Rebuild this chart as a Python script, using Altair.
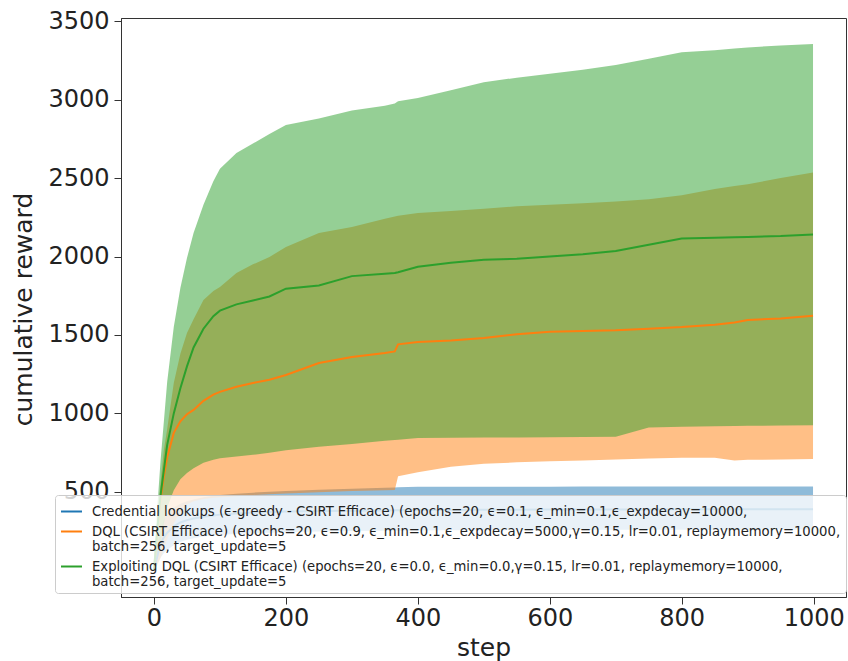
import altair as alt
import pandas as pd

# ---- data ----
steps = [0, 5, 10, 15, 20, 30, 40, 50, 60, 75, 90, 100, 125, 150, 175, 200, 250, 300, 350,
         365, 370, 400, 450, 500, 550, 600, 650, 700, 750, 800, 850, 880, 900, 950, 999]

blue_mean = [0, 90, 170, 210, 240, 280, 305, 320, 330, 342, 350, 355, 362, 368, 372, 375, 378, 380, 382,
             383, 383, 384, 385, 386, 386, 387, 387, 388, 388, 389, 389, 389, 390, 390, 390]
blue_lo = [0, 40, 80, 110, 130, 160, 180, 195, 205, 215, 222, 226, 232, 237, 240, 243, 247, 250, 252,
           253, 253, 254, 255, 256, 256, 257, 257, 258, 258, 258, 259, 259, 259, 260, 260]
blue_hi = [0, 150, 260, 320, 360, 400, 425, 440, 452, 465, 475, 480, 488, 495, 500, 505, 513, 520, 526,
           528, 529, 532, 533, 533, 533, 533, 534, 534, 534, 534, 535, 535, 535, 535, 535]

orange_mean = [0, 250, 450, 600, 720, 876, 950, 995, 1022, 1080, 1120, 1137, 1170, 1194, 1215, 1245, 1321, 1360, 1385,
               1395, 1440, 1455, 1465, 1480, 1505, 1520, 1525, 1530, 1540, 1550, 1565, 1580, 1595, 1605, 1622]
orange_lo = [0, 30, 80, 140, 200, 300, 370, 420, 440, 455, 462, 465, 472, 480, 485, 490, 497, 505, 510,
             512, 600, 625, 660, 680, 688, 695, 700, 706, 712, 717, 718, 700, 704, 707, 710]
orange_hi = [0, 320, 560, 767, 900, 1194, 1380, 1513, 1600, 1723, 1780, 1806, 1895, 1950, 1997, 2060, 2150, 2188, 2240,
             2255, 2260, 2277, 2290, 2305, 2320, 2330, 2340, 2350, 2365, 2390, 2430, 2450, 2460, 2500, 2535]

green_mean = [0, 260, 480, 640, 800, 1000, 1160, 1300, 1420, 1540, 1620, 1655, 1695, 1720, 1745, 1795, 1815, 1875, 1890,
              1895, 1900, 1935, 1960, 1980, 1985, 2000, 2015, 2035, 2075, 2115, 2120, 2122, 2125, 2130, 2140]
green_lo = [0, 80, 180, 300, 400, 510, 580, 620, 650, 685, 705, 715, 725, 736, 750, 765, 787, 805, 825,
            830, 832, 844, 845, 846, 847, 848, 850, 852, 910, 915, 918, 920, 921, 923, 925]
green_hi = [0, 400, 700, 950, 1200, 1550, 1800, 1990, 2150, 2330, 2480, 2560, 2660, 2720, 2780, 2838, 2880, 2930, 2960,
            2975, 2990, 3010, 3060, 3110, 3140, 3165, 3190, 3220, 3260, 3302, 3315, 3325, 3332, 3345, 3355]

names = [
    "Credential lookups (ϵ-greedy - CSIRT Efficace) (epochs=20, ϵ=0.1, ϵ_min=0.1,ϵ_expdecay=10000,",
    "DQL (CSIRT Efficace) (epochs=20, ϵ=0.9, ϵ_min=0.1,ϵ_expdecay=5000,γ=0.15, lr=0.01, replaymemory=10000,\nbatch=256, target_update=5",
    "Exploiting DQL (CSIRT Efficace) (epochs=20, ϵ=0.0, ϵ_min=0.0,γ=0.15, lr=0.01, replaymemory=10000,\nbatch=256, target_update=5",
]
colors = ["#1f77b4", "#ff7f0e", "#2ca02c"]

x_ticks = [0, 200, 400, 600, 800, 1000]
y_ticks = [500, 1000, 1500, 2000, 2500, 3000, 3500]

rows = []
for name, mean, lo, hi in [(names[0], blue_mean, blue_lo, blue_hi),
                           (names[1], orange_mean, orange_lo, orange_hi),
                           (names[2], green_mean, green_lo, green_hi)]:
    for s, m, l, h in zip(steps, mean, lo, hi):
        rows.append({"step": s, "mean": m, "lo": l, "hi": h, "series": name, "band": name})
df = pd.DataFrame(rows)

FONT = "DejaVu Sans"
xscale = alt.Scale(domain=[-50, 1049], nice=False, zero=False)
yscale = alt.Scale(domain=[-170, 3520], nice=False, zero=False)

xaxis = alt.Axis(values=x_ticks, title="step", grid=False, labelFontSize=24, titleFontSize=25,
                 labelFont=FONT, titleFont=FONT, titleFontWeight="normal", labelColor="#222",
                 titleColor="#222", tickSize=7, tickColor="#333", domainColor="#333",
                 labelPadding=2, titleBaseline="top", titleY=38, labelFlush=False, format="d")
yaxis = alt.Axis(values=y_ticks, title="cumulative reward", grid=False, labelFontSize=24, titleFontSize=25,
                 labelFont=FONT, titleFont=FONT, titleFontWeight="normal", labelColor="#222",
                 titleColor="#222", tickSize=7, tickColor="#333", domainColor="#333",
                 labelPadding=5, titleAngle=270, titleAlign="center", titleBaseline="middle",
                 titleX=-98, titleY=291, labelFlush=False, format="d")

bands = alt.Chart(df).mark_area(opacity=0.5, interpolate="linear").encode(
    x=alt.X("step:Q", scale=xscale, axis=xaxis),
    y=alt.Y("lo:Q", scale=yscale, axis=yaxis, stack=None),
    y2="hi:Q",
    fill=alt.Fill("band:N", scale=alt.Scale(domain=names, range=colors), sort=names, legend=None),
)

lines = alt.Chart(df).mark_line(strokeWidth=2).encode(
    x=alt.X("step:Q", scale=xscale, axis=xaxis),
    y=alt.Y("mean:Q", scale=yscale, axis=yaxis),
    stroke=alt.Stroke("series:N", scale=alt.Scale(domain=names, range=colors), sort=names, legend=alt.Legend(
        title=None, orient="none", legendX=-66, legendY=477, direction="vertical",
        fillColor="rgba(255,255,255,0.8)", strokeColor="#cccccc", cornerRadius=3, padding=5,
        labelFont=FONT, labelFontSize=13.2, labelColor="#222", labelLimit=1000,
        labelExpr="split(datum.label, '\\n')", symbolType="stroke", symbolStrokeWidth=2,
        symbolSize=440, labelOffset=9, rowPadding=2, symbolOpacity=1,
    )),
)

chart = alt.layer(bands, lines).resolve_scale(fill="independent", stroke="independent").properties(
    width=725, height=579,
    autosize=alt.AutoSizeParams(type="none"),
    padding={"left": 121, "top": 18, "right": 2, "bottom": 64},
    background="white",
).configure_view(stroke="#333", strokeWidth=1)

chart.save("out.html", embed_options={"renderer": "svg", "actions": False})
